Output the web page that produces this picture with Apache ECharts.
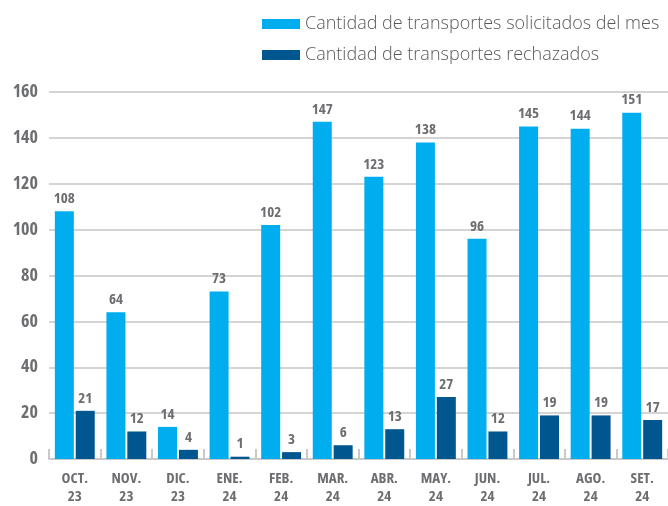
<!DOCTYPE html>
<html><head><meta charset="utf-8">
<script src="https://cdn.jsdelivr.net/npm/echarts@6/dist/echarts.min.js"></script>
<style>html,body{margin:0;padding:0;background:#fff}#c{width:668px;height:506px}</style>
</head><body><div id="c"></div>
<script>
const categories = ['OCT.\n23','NOV.\n23','DIC.\n23','ENE.\n24','FEB.\n24','MAR.\n24','ABR.\n24','MAY.\n24','JUN.\n24','JUL.\n24','AGO.\n24','SET.\n24'];
const solicitados = [108,64,14,73,102,147,123,138,96,145,144,151];
const rechazados = [21,12,4,1,3,6,13,27,12,19,19,17];
const seriesNames = ['Cantidad de transportes solicitados del mes','Cantidad de transportes rechazados'];

const cond = "'Open Sans',sans-serif";
const gray = '#6d6e71';
const lbl = {show:true,position:'top',distance:5,fontFamily:cond,fontStyle:'condensed',fontWeight:'bold',fontSize:15,color:gray};
const chart = echarts.init(document.getElementById('c'));
chart.setOption({
  animation:false,
  legend:{orient:'vertical',left:257,top:10,itemWidth:38,itemHeight:10,itemGap:13,
    icon:'rect',
    textStyle:{fontFamily:"'Open Sans',sans-serif",fontSize:18,color:'#595959',fontWeight:300,padding:[0,0,0,0]},
    data:seriesNames},
  grid:{left:49,right:0,top:92,bottom:43.5},
  xAxis:{type:'category',data:categories,
    axisLine:{lineStyle:{color:'#c9c9c9',width:2}},
    axisTick:{show:true,inside:true,length:10,lineStyle:{color:'#c9c9c9',width:2}},
    axisLabel:{interval:0,fontFamily:cond,fontStyle:'condensed',fontWeight:'bold',fontSize:15,color:gray,lineHeight:18,margin:11}},
  yAxis:{type:'value',min:0,max:160,interval:20,
    axisLine:{show:false},axisTick:{show:false},
    splitLine:{lineStyle:{color:'#d4d4d4',width:2}},
    axisLabel:{fontFamily:cond,fontStyle:'condensed',fontWeight:'bold',fontSize:18,color:gray,margin:11}},
  series:[
    {name:seriesNames[0],type:'bar',data:solicitados,barWidth:19,barGap:'10%',
     itemStyle:{color:'#00aeef'},label:lbl},
    {name:seriesNames[1],type:'bar',data:rechazados,barWidth:19,barGap:'10%',
     itemStyle:{color:'#00578f'},label:lbl}
  ]
});
</script></body></html>
